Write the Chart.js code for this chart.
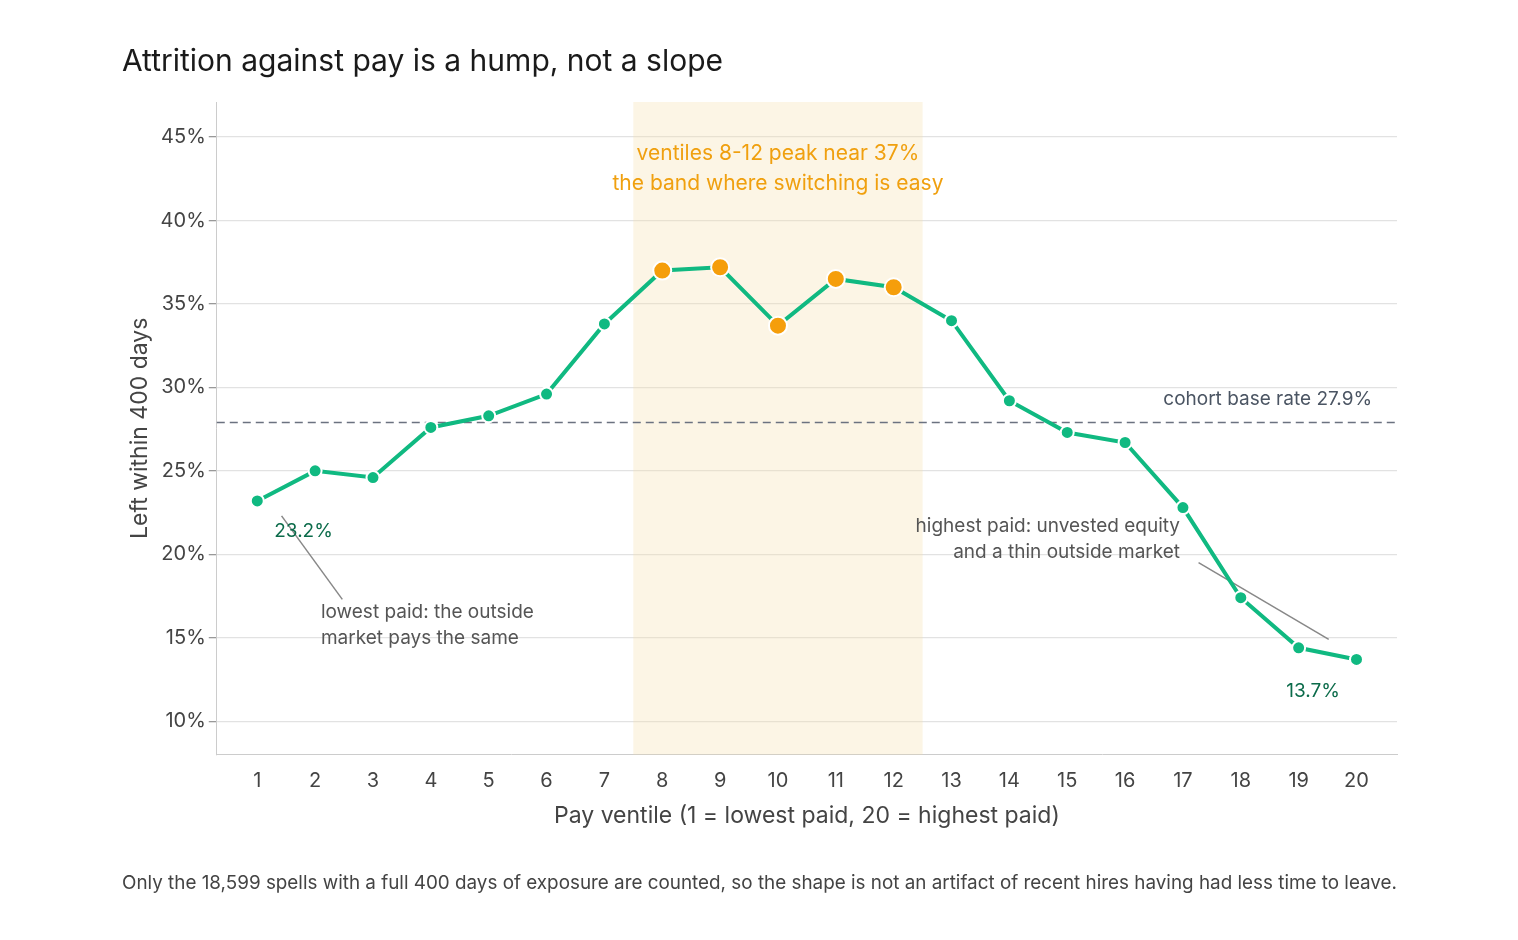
<!DOCTYPE html>
<html><head><meta charset="utf-8">
<script src="https://cdn.jsdelivr.net/npm/chart.js@4/dist/chart.umd.min.js"></script>
<style>html,body{margin:0;background:#fff;font-family:Inter,"Noto Sans",sans-serif}#w{position:relative;width:1518px;height:940px}</style>
</head><body><div id="w"><canvas id="c" width="1518" height="940"></canvas></div>
<script>
const ventiles=[1,2,3,4,5,6,7,8,9,10,11,12,13,14,15,16,17,18,19,20];
const leftRate=[23.2,25.0,24.6,27.6,28.3,29.6,33.8,37.0,37.2,33.7,36.5,36.0,34.0,29.2,27.3,26.7,22.8,17.4,14.4,13.7];
const yTicks=[10,15,20,25,30,35,40,45];
const baseRate=27.9;
const band=[7.5,12.5];
const F='Inter, "Noto Sans", sans-serif';
const hi=v=>v>=8&&v<=12;
const deco={id:'deco',
beforeDatasetsDraw(ch){const {ctx,chartArea:a,scales:{x,y}}=ch;ctx.save();
ctx.fillStyle='rgba(245,222,170,0.3)';ctx.fillRect(x.getPixelForValue(band[0]),a.top,x.getPixelForValue(band[1])-x.getPixelForValue(band[0]),a.bottom-a.top);
ctx.strokeStyle='#6b7280';ctx.setLineDash([8,5]);ctx.lineWidth=1.6;const yb=y.getPixelForValue(baseRate);
ctx.beginPath();ctx.moveTo(a.left,yb);ctx.lineTo(a.right,yb);ctx.stroke();ctx.setLineDash([]);
ctx.strokeStyle='#888';ctx.lineWidth=1.5;
ctx.beginPath();ctx.moveTo(x.getPixelForValue(1.42),y.getPixelForValue(22.3));ctx.lineTo(x.getPixelForValue(2.47),y.getPixelForValue(17.3));ctx.stroke();
ctx.beginPath();ctx.moveTo(x.getPixelForValue(17.27),y.getPixelForValue(19.5));ctx.lineTo(x.getPixelForValue(19.52),y.getPixelForValue(14.9));ctx.stroke();
ctx.restore();},
afterDatasetsDraw(ch){const {ctx,scales:{x,y}}=ch;ctx.save();
const t=(s,xv,yv,c,al,sz)=>{ctx.fillStyle=c;ctx.textAlign=al;ctx.textBaseline='middle';ctx.font=(sz||20)+'px '+F;ctx.fillText(s,x.getPixelForValue(xv),y.getPixelForValue(yv));};
t('ventiles 8-12 peak near 37%',10,44.0,'#f0a00f','center',21);
t('the band where switching is easy',10,42.2,'#f0a00f','center',21);
t('cohort base rate 27.9%',20.27,29.3,'#4b5563','right',19);
t('23.2%',1.8,21.4,'#0b6b4a','center',19);
t('13.7%',19.25,11.8,'#0b6b4a','center',19);
t('lowest paid: the outside',2.1,16.5,'#555','left',19);
t('market pays the same',2.1,14.95,'#555','left',19);
t('highest paid: unvested equity',16.95,21.7,'#555','right',19);
t('and a thin outside market',16.95,20.15,'#555','right',19);
ctx.restore();}};
new Chart(document.getElementById('c'),{type:'line',
data:{datasets:[{data:ventiles.map((v,i)=>({x:v,y:leftRate[i]})),borderColor:'#10b981',borderWidth:4,
pointBackgroundColor:ventiles.map(v=>hi(v)?'#f59e0b':'#10b981'),pointBorderColor:'#fff',pointBorderWidth:2,
pointRadius:ventiles.map(v=>hi(v)?9:6.5),pointHoverRadius:8,tension:0}]},
plugins:[deco],
options:{responsive:false,animation:false,devicePixelRatio:1,
layout:{padding:{left:122,right:121,top:0,bottom:0}},
plugins:{legend:{display:false},tooltip:{enabled:false},
title:{display:true,text:'Attrition against pay is a hump, not a slope',align:'start',color:'#1a1a1a',font:{family:F,size:30,weight:'normal'},padding:{top:44,bottom:22}},
subtitle:{display:true,position:'bottom',text:'Only the 18,599 spells with a full 400 days of exposure are counted, so the shape is not an artifact of recent hires having had less time to leave.',color:'#444',font:{family:F,size:19},padding:{top:38,bottom:45}}},
scales:{x:{type:'linear',min:0.3,max:20.7,afterBuildTicks:s=>{s.ticks=ventiles.map(v=>({value:v}));},
grid:{display:false},border:{color:'#ccc'},ticks:{color:'#444',font:{family:F,size:20},padding:6},
title:{display:true,text:'Pay ventile (1 = lowest paid, 20 = highest paid)',color:'#444',font:{family:F,size:23},padding:{top:4}}},
y:{min:8,max:47.1,afterBuildTicks:s=>{s.ticks=yTicks.map(v=>({value:v}));},
grid:{color:'#e2e2e2',lineWidth:1.3,tickLength:8,tickColor:'#999'},border:{color:'#ccc'},
ticks:{color:'#444',font:{family:F,size:20},callback:v=>v+'%'},
title:{display:true,text:'Left within 400 days',color:'#444',font:{family:F,size:23},padding:{bottom:4}}}}}});
</script></body></html>
